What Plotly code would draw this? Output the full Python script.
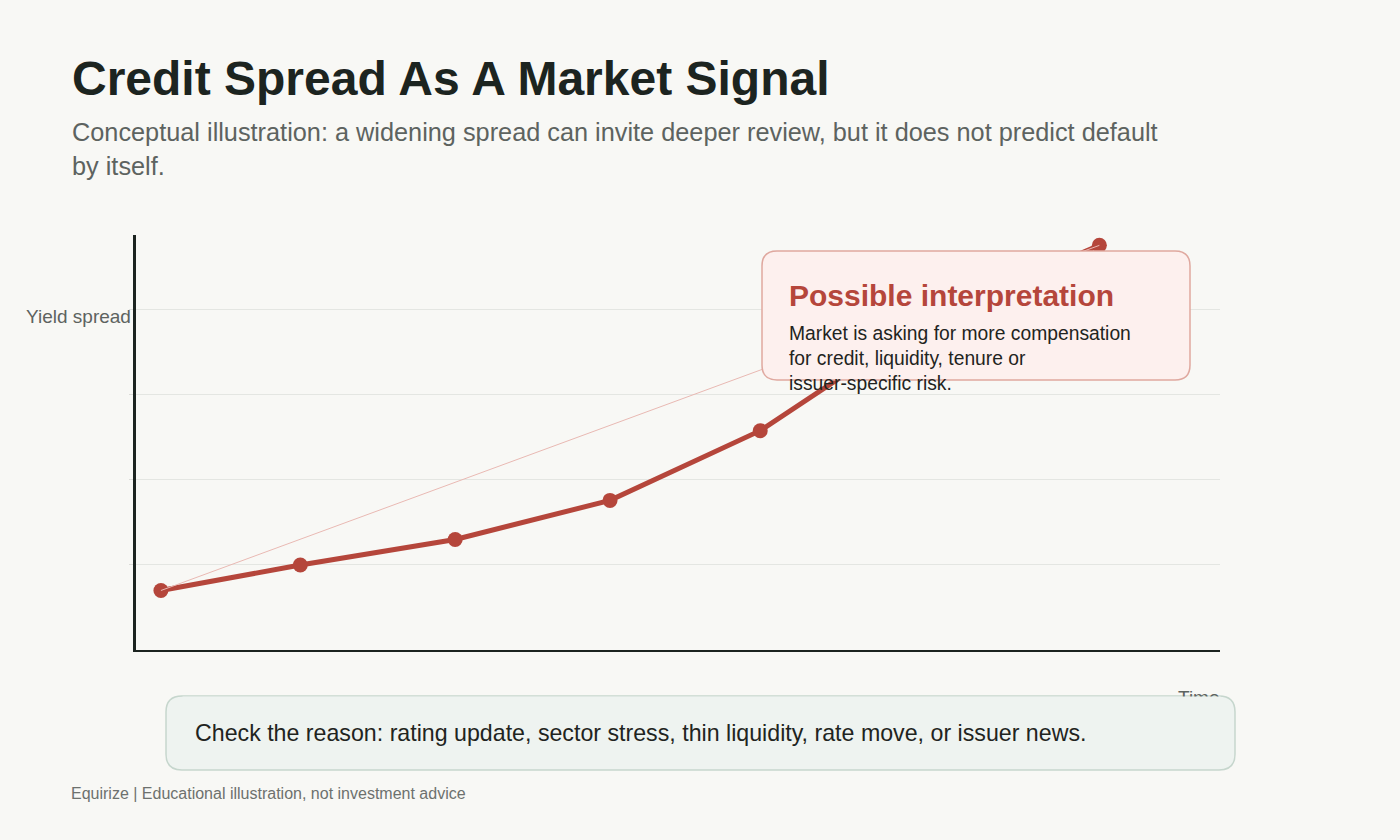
import plotly.graph_objects as go

# spread path (conceptual, no units)
period = [0, 0.9, 1.9, 2.9, 3.87, 4.97, 6.06]
spread = [0.70, 1.00, 1.30, 1.76, 2.58, 3.91, 4.76]
grid_values = [1, 2, 3, 4]

title = "Credit Spread As A Market Signal"
subtitle_lines = [
    "Conceptual illustration: a widening spread can invite deeper review, but it does not predict default",
    "by itself.",
]
box_title = "Possible interpretation"
box_body = "Market is asking for more compensation<br>for credit, liquidity, tenure or<br>issuer-specific risk."
check_note = "Check the reason: rating update, sector stress, thin liquidity, rate move, or issuer news."
footer = "Equirize | Educational illustration, not investment advice"

RED = "#b5463b"
DARK = "#1c2420"
GREY = "#5d6360"
BG = "#f8f8f5"
FONT = "Arial, Liberation Sans, sans-serif"

# plot area in page pixels
L, R, T, B = 136, 1220, 235, 650


def px(x):
    return (x - L) / (R - L)


def py(y):
    return (B - y) / (B - T)


def rounded_box(x0, y0, x1, y1, r):
    # rounded rectangle in paper coords, corners as quadratic curves
    return (
        f"M {px(x0 + r)} {py(y0)} L {px(x1 - r)} {py(y0)} "
        f"Q {px(x1)} {py(y0)} {px(x1)} {py(y0 + r)} "
        f"L {px(x1)} {py(y1 - r)} Q {px(x1)} {py(y1)} {px(x1 - r)} {py(y1)} "
        f"L {px(x0 + r)} {py(y1)} Q {px(x0)} {py(y1)} {px(x0)} {py(y1 - r)} "
        f"L {px(x0)} {py(y0 + r)} Q {px(x0)} {py(y0)} {px(x0 + r)} {py(y0)} Z"
    )


def label(text, x, y, size, color, xanchor="left", bold=False, **kw):
    if bold:
        text = f"<b>{text}</b>"
    return dict(
        text=text, x=px(x), y=py(y), xref="paper", yref="paper",
        xanchor=xanchor, yanchor="middle", showarrow=False, align="left",
        font=dict(family=FONT, size=size, color=color), **kw
    )


fig = go.Figure()

fig.add_trace(go.Scatter(
    x=period, y=spread, mode="lines+markers",
    line=dict(color=RED, width=5),
    marker=dict(color=RED, size=15),
    hoverinfo="skip", showlegend=False,
))
# straight reference from first to last reading
fig.add_trace(go.Scatter(
    x=[period[0], period[-1]], y=[spread[0], spread[-1]], mode="lines",
    line=dict(color="#e9b9b3", width=1),
    hoverinfo="skip", showlegend=False,
))

shapes = [
    dict(type="path", xref="paper", yref="paper", layer="above",
         path=rounded_box(762, 251, 1190, 380, 15),
         fillcolor="#fdf0ee", line=dict(color="#dfa89f", width=1.5)),
    dict(type="path", xref="paper", yref="paper", layer="above",
         path=rounded_box(166, 696, 1235, 770, 16),
         fillcolor="#eef3f0", line=dict(color="#c6d6cd", width=1.5)),
]

annotations = [
    label(title, 70, 79, 48, DARK, bold=True),
    label(subtitle_lines[0], 70, 132, 25.3, GREY),
    label(subtitle_lines[1], 70, 166, 25.3, GREY),
    label("Yield spread", 133, 316, 19, GREY, xanchor="right"),
    label("Time", 1222, 697, 19, GREY, xanchor="right"),
    label(box_title, 787, 295, 30, RED, bold=True),
    label(box_body, 787, 358, 19.3, "#1f2421"),
    # note text sits on a fill that also hides the lower part of "Time"
    label(check_note, 182, 732, 23.2, "#1f2421",
          bgcolor="#eef3f0", borderpad=12, width=1013, height=47),
    label(footer, 69, 793, 16, "#6d716e"),
]

fig.update_layout(
    width=1400, height=840,
    paper_bgcolor=BG, plot_bgcolor=BG,
    margin=dict(l=L, r=1400 - R, t=T, b=840 - B, pad=0),
    shapes=shapes, annotations=annotations,
    showlegend=False,
    font=dict(family=FONT),
)
fig.update_xaxes(
    range=[-0.161, 6.839], showgrid=False, zeroline=False,
    showticklabels=False, ticks="",
    showline=True, linecolor=DARK, linewidth=2,
)
fig.update_yaxes(
    range=[0, 4.882], tickvals=grid_values, showticklabels=False,
    showgrid=True, gridcolor="#e4e6e2", gridwidth=1, zeroline=False,
    ticks="outside", ticklen=4, tickcolor="#dcdcd8",
    showline=True, linecolor=DARK, linewidth=3,
)

fig.write_html(
    "out.html",
    config={"displayModeBar": False},
    post_script="document.body.style.margin='0';document.body.style.background='%s';" % BG,
)
